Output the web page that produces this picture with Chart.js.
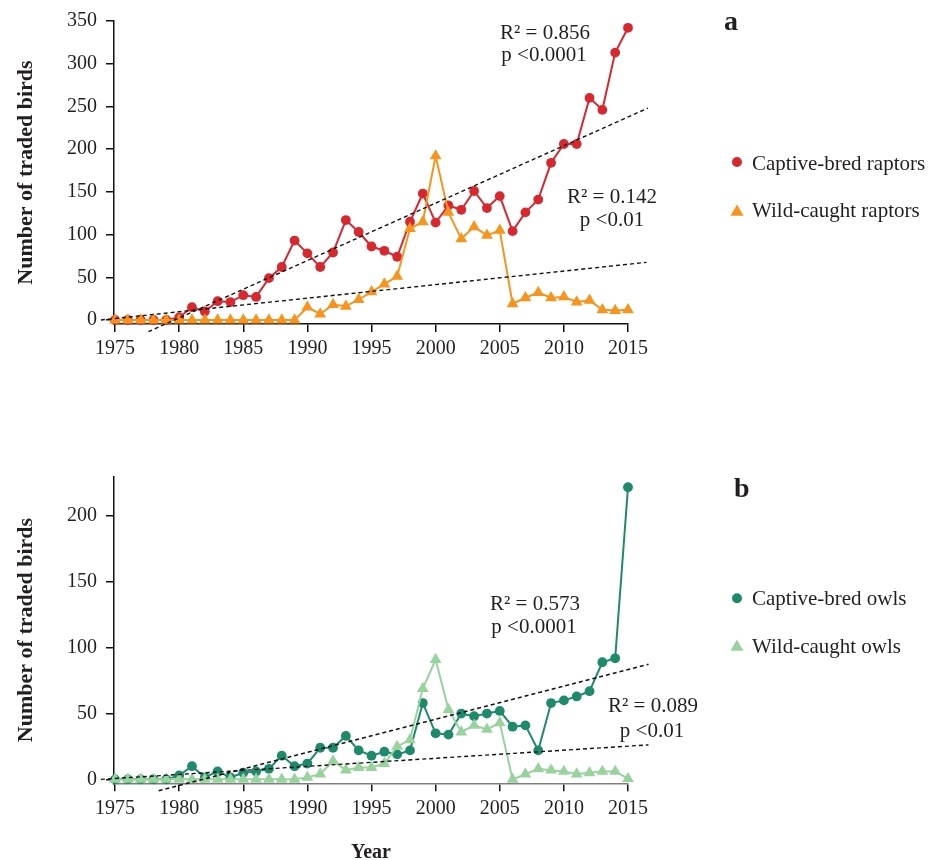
<!DOCTYPE html>
<html>
<head>
<meta charset="utf-8">
<script src="https://cdn.jsdelivr.net/npm/chart.js@4"></script>
<style>
html,body{margin:0;padding:0;background:#fff;width:928px;height:860px;overflow:hidden;}
#wrapA{position:absolute;left:0;top:0;width:928px;height:400px;}
#wrapB{position:absolute;left:0;top:440px;width:928px;height:420px;}
canvas{display:block;}
</style>
</head>
<body>
<div id="wrapA"><canvas id="chartA" width="928" height="400"></canvas></div>
<div id="wrapB"><canvas id="chartB" width="928" height="420"></canvas></div>
<script>
// ---------- data ----------
const years = [1975,1976,1977,1978,1979,1980,1981,1982,1983,1984,1985,1986,1987,1988,1989,1990,1991,1992,1993,1994,1995,1996,1997,1998,1999,2000,2001,2002,2003,2004,2005,2006,2007,2008,2009,2010,2011,2012,2013,2014,2015];
const yearTicks = [1975,1980,1985,1990,1995,2000,2005,2010,2015];
const raptorTicks = [0,50,100,150,200,250,300,350];
const owlTicks = [0,50,100,150,200];

const captiveRaptors = [0,0,0,0,0,3,15,10,22,21,29,27,49,62,93,78,62,79,117,103,86,81,74,115,148,114,134,129,151,131,145,104,126,141,184,206,206,260,246,313,342];
const wildRaptors    = [0,0,0,0,0,0,0,0,0,0,0,0,0,0,0,15,7,18,16,24,33,42,51,107,115,192,126,95,109,99,105,19,26,32,26,27,21,23,12,11,12];
const captiveOwls    = [0,0,0,0,0,3,10,1.5,6,1.5,5,6,8,18,10,12,24,24,33,22,18,21,19,22,58,35,34,50,48,50,52,40,41,22,58,60,63,67,89,92,222];
const wildOwls       = [0,0,0,0,0,0,0,0,0,0,0,0,0,0,0,1.5,4,14,7,9,9,12,25,30,69,91,53,36,41,38,43,0,4,8,7,6,4,5,6,6,0.5];

// fitted trend lines: [year, value] end points
const captiveRaptorTrend = [[1977.6,-13.7],[2016.55,248]];
const wildRaptorTrend    = [[1973.9,0],[2016.45,67.5]];
const captiveOwlTrend    = [[1978.4,-8.7],[2016.6,87.5]];
const wildOwlTrend       = [[1973.9,0],[2016.6,26.2]];

// ---------- styles ----------
const FONT = "'Liberation Serif','Times New Roman',serif";
const TXT = '#231f20';
const RED = '#d7282f';
const ORANGE = '#f7941d';
const DKGREEN = '#1e8a6c';
const LTGREEN = '#98d29c';

const toXY = vals => years.map((yr, i) => ({x: yr, y: vals[i]}));
const trendXY = t => t.map(p => ({x: p[0], y: p[1]}));

function series(label, vals, color, style, radius, order) {
  return {
    label, data: toXY(vals), borderColor: color, backgroundColor: color,
    borderWidth: 2, tension: 0, pointStyle: style, pointRadius: radius,
    pointHoverRadius: radius, pointBorderWidth: 0, pointBackgroundColor: color,
    clip: false, order
  };
}
function trend(vals) {
  return {
    label: 'trend', data: trendXY(vals), borderColor: '#111', borderWidth: 1.4,
    borderDash: [4, 3], pointRadius: 0, pointHoverRadius: 0, tension: 0, clip: false, order: 0
  };
}

function xScale(axisHeight, borderColor, withTitle) {
  return {
    type: 'linear', min: 1974.92, max: 2015,
    afterBuildTicks: s => { s.ticks = yearTicks.map(v => ({value: v})); },
    afterFit: s => { s.height = axisHeight; },
    grid: {display: true, drawOnChartArea: false, drawTicks: true, tickLength: 8, color: '#111', lineWidth: 1.5},
    border: {display: true, color: borderColor, width: 1.5},
    ticks: {color: TXT, font: {family: FONT, size: 20}, padding: 5, maxRotation: 0, autoSkip: false, callback: v => String(v)},
    title: withTitle ? {display: true, text: 'Year', color: TXT, font: {family: FONT, size: 20, weight: 'bold', lineHeight: 0.7}, padding: {top: 0, bottom: 0}} : {display: false}
  };
}
function yScale(min, max, tickList) {
  return {
    type: 'linear', min, max,
    afterBuildTicks: s => { s.ticks = tickList.map(v => ({value: v})); },
    afterFit: s => { s.width = 114; },
    grid: {display: true, drawOnChartArea: false, drawTicks: true, tickLength: 8, color: '#111', lineWidth: 1.5},
    border: {display: true, color: '#111', width: 1.5},
    ticks: {color: TXT, font: {family: FONT, size: 20}, padding: 9, autoSkip: false, callback: v => String(v)},
    title: {display: true, text: 'Number of traded birds', color: TXT, font: {family: FONT, size: 22, weight: 'bold'}, padding: {top: 13, bottom: 0}}
  };
}

// draws panel letters, R²/p annotations and the side legend
const textPlugin = {
  id: 'texts',
  afterDraw(chart, args, opts) {
    const ctx = chart.ctx;
    ctx.save();
    (opts.items || []).forEach(t => {
      ctx.font = t.font;
      ctx.fillStyle = TXT;
      ctx.textAlign = t.align || 'left';
      ctx.textBaseline = 'alphabetic';
      ctx.fillText(t.text, t.x, t.y);
    });
    (opts.legend || []).forEach(l => {
      const ds = chart.data.datasets[l.dataset];
      ctx.fillStyle = ds.pointBackgroundColor;
      ctx.strokeStyle = ds.pointBackgroundColor;
      Chart.helpers.drawPoint(ctx, {pointStyle: ds.pointStyle, radius: l.r, borderWidth: 0, rotation: 0}, l.x, l.y);
      ctx.font = "21px " + FONT;
      ctx.fillStyle = TXT;
      ctx.textAlign = 'left';
      ctx.textBaseline = 'alphabetic';
      ctx.fillText(ds.label, l.tx, l.ty);
    });
    ctx.restore();
  }
};

const ANN = "21px " + FONT;
const LETTER = "bold 28px " + FONT;

new Chart(document.getElementById('chartA'), {
  type: 'line',
  data: {datasets: [
    trend(captiveRaptorTrend),
    trend(wildRaptorTrend),
    series('Captive-bred raptors', captiveRaptors, RED, 'circle', 4.9, 3),
    series('Wild-caught raptors', wildRaptors, ORANGE, 'triangle', 6.8, 2)
  ]},
  options: {
    responsive: false, animation: false, devicePixelRatio: 1,
    layout: {padding: {top: 21, right: 300, bottom: 0, left: 0}},
    scales: {x: xScale(76, '#111', false), y: yScale(-4.7, 350, raptorTicks)},
    plugins: {
      legend: {display: false}, tooltip: {enabled: false},
      texts: {
        items: [
          {text: 'a', x: 724, y: 30, font: LETTER},
          {text: 'R² = 0.856', x: 545, y: 38.5, font: ANN, align: 'center'},
          {text: 'p <0.0001', x: 544, y: 61, font: ANN, align: 'center'},
          {text: 'R² = 0.142', x: 612, y: 203, font: ANN, align: 'center'},
          {text: 'p <0.01', x: 612, y: 225.5, font: ANN, align: 'center'}
        ],
        legend: [
          {dataset: 2, x: 737, y: 162, r: 5, tx: 752, ty: 170},
          {dataset: 3, x: 737, y: 212, r: 7.5, tx: 752, ty: 217}
        ]
      }
    }
  },
  plugins: [textPlugin]
});

new Chart(document.getElementById('chartB'), {
  type: 'line',
  data: {datasets: [
    trend(captiveOwlTrend),
    trend(wildOwlTrend),
    series('Captive-bred owls', captiveOwls, DKGREEN, 'circle', 4.9, 3),
    series('Wild-caught owls', wildOwls, LTGREEN, 'triangle', 6.8, 2)
  ]},
  options: {
    responsive: false, animation: false, devicePixelRatio: 1,
    layout: {padding: {top: 36.7, right: 300, bottom: 0, left: 0}},
    scales: {x: xScale(76.7, '#7f7f7f', true), y: yScale(-3.0, 230, owlTicks)},
    plugins: {
      legend: {display: false}, tooltip: {enabled: false},
      texts: {
        items: [
          {text: 'b', x: 734, y: 56.7, font: LETTER},
          {text: 'R² = 0.573', x: 535, y: 170, font: ANN, align: 'center'},
          {text: 'p <0.0001', x: 534, y: 193.3, font: ANN, align: 'center'},
          {text: 'R² = 0.089', x: 653, y: 271.7, font: ANN, align: 'center'},
          {text: 'p <0.01', x: 652, y: 296.7, font: ANN, align: 'center'}
        ],
        legend: [
          {dataset: 2, x: 737, y: 158.3, r: 5, tx: 752, ty: 165},
          {dataset: 3, x: 737, y: 207, r: 7.5, tx: 752, ty: 212.7}
        ]
      }
    }
  },
  plugins: [textPlugin]
});
</script>
</body>
</html>
